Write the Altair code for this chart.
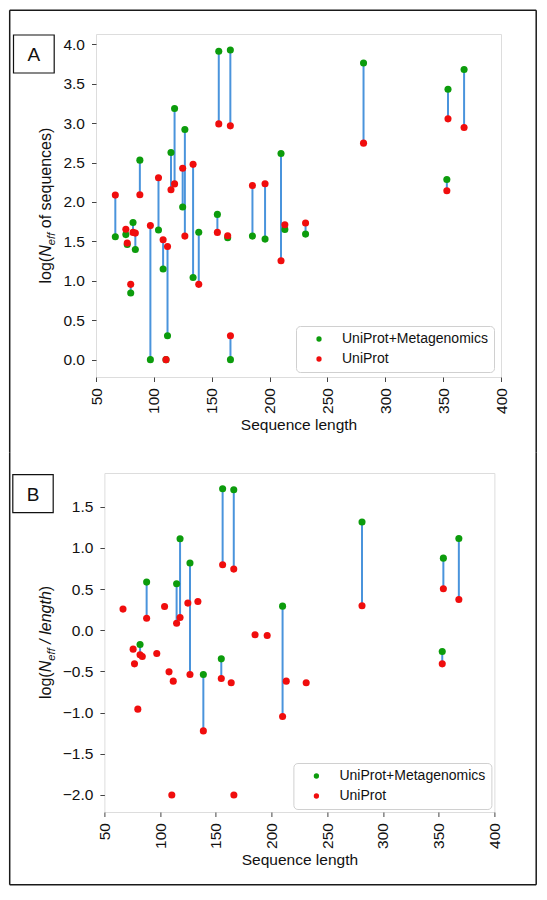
import altair as alt
import pandas as pd

FONT = "Liberation Sans"
GREEN = "#0c9c0c"
RED = "#f00d0d"
BLUE = "#4a94dc"
META = "UniProt+Metagenomics"
UNIP = "UniProt"

# ---- data ----
lengths = [66.7, 75.8, 77.0, 80.0, 82.0, 84.0, 87.9, 97.0, 104.0, 108.0, 110.5, 111.8,
           114.8, 117.9, 124.9, 126.8, 133.9, 138.8, 154.9, 156.1, 163.8, 166.1, 166.2,
           185.2, 196.1, 209.9, 213.2, 231.1, 281.2, 353.2, 354.2, 368.1]

# Panel A: log(Neff of sequences)
uniprot_a = [2.087, 1.654, 1.478, 0.955, 1.614, 1.605, 2.091, 1.700, 2.306, 1.520, 0.000, 1.436,
             2.154, 2.229, 2.428, 1.567, 2.477, 0.955, 1.614, 2.990, 1.571, 2.965, 0.304,
             2.209, 2.230, 1.254, 1.711, 1.732, 2.746, 2.141, 3.054, 2.944]
meta_a = [1.559, 1.586, 1.460, 0.845, 1.740, 1.398, 2.530, 0.000, 1.644, 1.149, 0.000, 0.304,
          2.627, 3.185, 1.936, 2.919, 1.042, 1.615, 1.842, 3.911, 1.546, 3.928, 0.000,
          1.567, 1.529, 2.615, 1.652, 1.592, 3.763, 2.285, 3.430, 3.679]

# Panel B: log(Neff / length)
uniprot_b = [0.257, -0.229, -0.408, -0.958, -0.298, -0.319, 0.147, -0.282, 0.289, -0.505, -2.000, -0.618,
             0.086, 0.155, 0.330, -0.537, 0.350, -1.222, -0.586, 0.795, -0.638, 0.743, -2.000,
             -0.055, -0.063, -1.048, -0.618, -0.638, 0.297, -0.408, 0.504, 0.374]
meta_b = [None, None, None, None, -0.173, None, 0.585, None, None, None, None, None,
          0.564, 1.111, None, 0.816, None, -0.537, -0.347, 1.719, None, 1.707, None,
          None, None, 0.293, None, None, 1.314, -0.258, 0.876, 1.115]

x_ticks = [50, 100, 150, 200, 250, 300, 350, 400]
y_ticks_a = [0.0, 0.5, 1.0, 1.5, 2.0, 2.5, 3.0, 3.5, 4.0]
y_ticks_b = [-2.0, -1.5, -1.0, -0.5, 0.0, 0.5, 1.0, 1.5]


def frames(unip, meta):
    seg = pd.DataFrame([{"length": L, "lo": u, "hi": m}
                        for L, u, m in zip(lengths, unip, meta) if m is not None])
    pts = [{"length": L, "value": m, "series": META, "z": 0}
           for L, m in zip(lengths, meta) if m is not None]
    pts += [{"length": L, "value": u, "series": UNIP, "z": 1}
            for L, u in zip(lengths, unip)]
    return seg, pd.DataFrame(pts)


ONE = alt.Data(values=[{}])


def vrule(x, y1, y2):
    return alt.Chart(ONE).mark_rule(color="#1a1a1a", strokeWidth=1.5).encode(
        x=alt.value(x), y=alt.value(y1), y2=alt.value(y2))


def hrule(x1, x2, y):
    return alt.Chart(ONE).mark_rule(color="#1a1a1a", strokeWidth=1.5).encode(
        x=alt.value(x1), x2=alt.value(x2), y=alt.value(y))


def label_box(x1, x2, y1, y2, letter):
    box = alt.Chart(ONE).mark_rect(fill="white", stroke="#111", strokeWidth=1.2).encode(
        x=alt.value(x1), x2=alt.value(x2), y=alt.value(y1), y2=alt.value(y2))
    txt = alt.Chart(ONE).mark_text(text=letter, font=FONT, fontSize=19, align="center",
                                   baseline="middle", color="#111").encode(
        x=alt.value((x1 + x2) / 2), y=alt.value((y1 + y2) / 2 + 1))
    return [box, txt]


def ytitle(x, y, pieces):
    out = []
    for text, dx, size, style, dy in pieces:
        out.append(alt.Chart(ONE).mark_text(
            text=text, font=FONT, fontSize=size, fontStyle=style, angle=270,
            align="left", baseline="alphabetic", dx=dx, dy=dy, color="#111").encode(
            x=alt.value(x), y=alt.value(y)))
    return out


def panel(unip, meta, ydomain, yticks, w, h, legxy, deco):
    seg, pts = frames(unip, meta)
    xs = alt.Scale(domain=[50, 400], nice=False, zero=False)
    ys = alt.Scale(domain=ydomain, nice=False, zero=False)
    xaxis = alt.Axis(values=x_ticks, title="Sequence length", labelAngle=270, grid=False,
                     domain=False, tickSize=4.5, labelPadding=6, labelFlush=False,
                     labelOverlap=False, labelFont=FONT, labelFontSize=15.5,
                     titleFont=FONT, titleFontSize=15.5, titleFontWeight="normal",
                     titlePadding=4, labelColor="#111", titleColor="#111", tickColor="#444")
    yaxis = alt.Axis(values=yticks, format=".1f", title=None, grid=False, domain=False,
                     tickSize=4.5, labelPadding=7, labelFlush=False, labelOverlap=False,
                     labelFont=FONT, labelFontSize=15.5, labelColor="#111", tickColor="#444")
    rules = alt.Chart(seg).mark_rule(color=BLUE, strokeWidth=2).encode(
        x=alt.X("length:Q", scale=xs, axis=xaxis),
        y=alt.Y("lo:Q", scale=ys, axis=yaxis),
        y2="hi:Q")
    points = alt.Chart(pts).mark_circle(size=50, opacity=1).encode(
        x=alt.X("length:Q", scale=xs, axis=xaxis),
        y=alt.Y("value:Q", scale=ys, axis=yaxis),
        color=alt.Color("series:N",
                        scale=alt.Scale(domain=[META, UNIP], range=[GREEN, RED]),
                        legend=alt.Legend(orient="none", legendX=legxy[0], legendY=legxy[1],
                                          title=None, padding=6, symbolSize=28,
                                          symbolType="circle", symbolStrokeWidth=0,
                                          symbolOffset=10, labelOffset=16, labelFont=FONT,
                                          labelFontSize=14, labelColor="#111", rowPadding=6,
                                          strokeColor="#d0d0d0", cornerRadius=4,
                                          fillColor="white")),
        order=alt.Order("z:Q"))
    return alt.layer(rules, points, *deco).properties(width=w, height=h)


deco_a = [hrule(-86.3, 440.2, -23.8), vrule(-86.3, -23.8, 418.7), vrule(440.2, -23.8, 418.7)]
deco_a += label_box(-82.5, -41.8, 1.0, 39.0, "A")
deco_a += ytitle(-44.8, 249.5, [("log(", 0, 16, "normal", 0), ("N", 26.7, 16, "italic", 0),
                                ("eff", 38.3, 11.2, "italic", 3.5),
                                ("of sequences)", 55.3, 16, "normal", 0)])

deco_b = [hrule(-94.7, 431.8, 411.7), vrule(-94.7, -20.3, 411.7), vrule(431.8, -20.3, 411.7)]
deco_b += label_box(-91.6, -51.2, 1.7, 39.7, "B")
deco_b += ytitle(-53.2, 226.0, [("log(", 0, 16, "normal", 0), ("N", 26.7, 16, "italic", 0),
                                ("eff", 38.3, 11.2, "italic", 3.5),
                                ("/ length", 55.3, 16, "italic", 0),
                                (")", 107.8, 16, "normal", 0)])

panel_a = panel(uniprot_a, meta_a, [-0.22, 4.13], y_ticks_a, 405, 343, (200, 292), deco_a)
panel_b = panel(uniprot_b, meta_b, [-2.207, 1.91], y_ticks_b, 390, 339, (189, 290), deco_b)

# an invisible 1px cell that shifts panel B's frame 8.4px to the right of panel A's
spacer = alt.Chart(ONE, view=alt.ViewBackground(stroke="transparent", fill="transparent")).mark_point(
    opacity=0).encode(x=alt.value(0), y=alt.value(0)).properties(width=1, height=1)
row_b = alt.HConcatChart(hconcat=[spacer, panel_b], spacing=7.4, bounds="flush").resolve_scale(
    color="independent")

chart = alt.VConcatChart(vconcat=[panel_a, row_b], spacing=-3).resolve_scale(
    color="independent").properties(padding=0).configure_view(
    stroke="#555", strokeWidth=1).configure(background="white")

chart.save("out.html", embed_options={"renderer": "svg", "actions": False})
